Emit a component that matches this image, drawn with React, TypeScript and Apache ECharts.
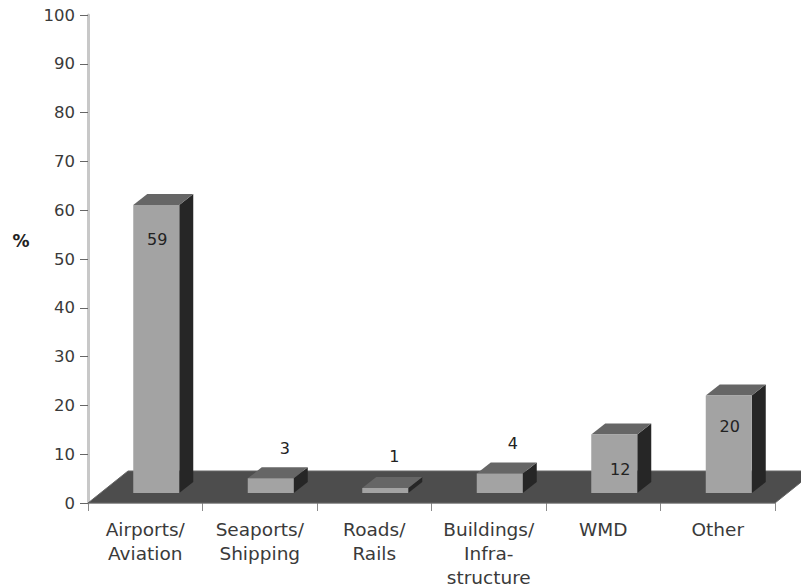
import React, { useEffect, useRef } from "react";
import * as echarts from "echarts";

const categories = [
  "Airports/\nAviation",
  "Seaports/\nShipping",
  "Roads/\nRails",
  "Buildings/\nInfra-\nstructure",
  "WMD",
  "Other",
];
const percentages = [59, 3, 1, 4, 12, 20];
const valueTicks = { min: 0, max: 100, step: 10 };

// Extrusion of the pseudo-3D columns and of the floor they stand on.
const COLUMN_WIDTH = 46;
const COLUMN_SHIFT_X = 11;
const COLUMN_LIFT = 10;
const DEPTH_X = 14;
const DEPTH_Y = 11;
const FLOOR_DEPTH_X = 40;
const FLOOR_DEPTH_Y = 32;

// Where each value sits relative to the top-centre of its column front.
const labelNudge = [
  [1, 34],
  [14, -30],
  [9, -32],
  [13, -30],
  [6, 35],
  [1, 31],
];

const FONT = '"DejaVu Sans", Verdana, sans-serif';
const TEXT = "#3a3a3a";

const renderFloor = (params: any) => {
  const { x, y, width, height } = params.coordSys;
  const bottom = y + height;
  return {
    type: "polygon",
    shape: {
      points: [
        [x, bottom],
        [x + width, bottom],
        [x + width + FLOOR_DEPTH_X, bottom - FLOOR_DEPTH_Y],
        [x + FLOOR_DEPTH_X, bottom - FLOOR_DEPTH_Y],
      ],
    },
    style: { fill: "#4d4d4d", stroke: "#666666", lineWidth: 1 },
  };
};

const renderColumn = (params: any, api: any) => {
  const index = api.value(0);
  const value = api.value(1);
  const [centre, top0] = api.coord([index, value]);
  const [, base0] = api.coord([index, 0]);
  const left = centre + COLUMN_SHIFT_X - COLUMN_WIDTH / 2;
  const right = left + COLUMN_WIDTH;
  const top = top0 - COLUMN_LIFT;
  const base = base0 - COLUMN_LIFT;
  const [nudgeX, nudgeY] = labelNudge[params.dataIndex];
  return {
    type: "group",
    children: [
      {
        type: "polygon",
        shape: {
          points: [
            [right, top],
            [right + DEPTH_X, top - DEPTH_Y],
            [right + DEPTH_X, base - DEPTH_Y],
            [right, base],
          ],
        },
        style: { fill: "#262626" },
      },
      {
        type: "polygon",
        shape: {
          points: [
            [left, top],
            [left + DEPTH_X, top - DEPTH_Y],
            [right + DEPTH_X, top - DEPTH_Y],
            [right, top],
          ],
        },
        style: { fill: "#666666" },
      },
      {
        type: "rect",
        shape: { x: left, y: top, width: COLUMN_WIDTH, height: base - top },
        style: { fill: "#a3a3a3" },
      },
      {
        type: "text",
        z2: 10,
        style: {
          text: String(value),
          x: left + COLUMN_WIDTH / 2 + nudgeX,
          y: top + nudgeY,
          align: "center",
          verticalAlign: "middle",
          fill: "#222222",
          font: `16px ${FONT}`,
        },
      },
    ],
  };
};

export default function App() {
  const ref = useRef<HTMLDivElement>(null);

  useEffect(() => {
    document.body.style.margin = "0";
    const chart = echarts.init(ref.current!, null, { renderer: "svg" });
    chart.setOption({
      animation: false,
      backgroundColor: "#ffffff",
      grid: { left: 88, top: 15, width: 687, height: 488, containLabel: false, outerBoundsMode: "none" },
      xAxis: {
        type: "category",
        data: categories,
        boundaryGap: true,
        axisLine: { show: true, lineStyle: { color: "#c8c8c8", width: 2 } },
        axisTick: { show: true, alignWithLabel: false, length: 8, lineStyle: { color: "#8a8a8a", width: 1 } },
        axisLabel: {
          interval: 0,
          margin: 14,
          color: TEXT,
          fontFamily: FONT,
          fontSize: 18.5,
          lineHeight: 24,
        },
      },
      yAxis: {
        type: "value",
        min: valueTicks.min,
        max: valueTicks.max,
        interval: valueTicks.step,
        splitLine: { show: false },
        axisLine: { show: true, lineStyle: { color: "#c8c8c8", width: 3 } },
        axisTick: { show: true, length: 8, lineStyle: { color: "#666666", width: 1 } },
        axisLabel: { margin: 13, color: TEXT, fontFamily: FONT, fontSize: 16.5 },
      },
      graphic: [
        {
          type: "text",
          x: 21,
          y: 241,
          style: {
            text: "%",
            align: "center",
            verticalAlign: "middle",
            fill: "#222222",
            font: `bold 17px ${FONT}`,
          },
        },
      ],
      series: [
        {
          type: "custom",
          z: 1,
          clip: false,
          silent: true,
          data: [[0, 0]],
          renderItem: renderFloor,
        },
        {
          type: "custom",
          z: 2,
          clip: false,
          encode: { x: 0, y: 1 },
          data: percentages.map((v, i) => [i, v]),
          renderItem: renderColumn,
        },
      ],
    });
    return () => chart.dispose();
  }, []);

  return <div ref={ref} style={{ width: 801, height: 586, overflow: "hidden" }} />;
}
